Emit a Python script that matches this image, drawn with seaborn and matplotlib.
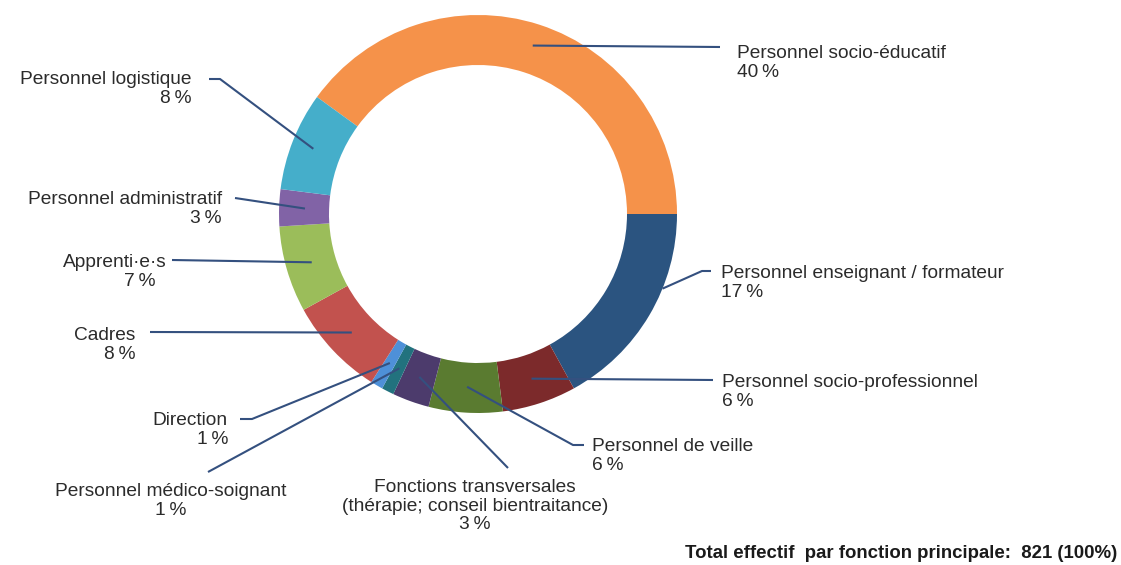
import numpy as np
import matplotlib
matplotlib.use("Agg")
import matplotlib.pyplot as plt
import seaborn as sns

# ---- data ----
categories = [
    "Personnel socio-éducatif",
    "Personnel enseignant / formateur",
    "Personnel socio-professionnel",
    "Personnel de veille",
    "Fonctions transversales\n(thérapie; conseil bientraitance)",
    "Personnel médico-soignant",
    "Direction",
    "Cadres",
    "Apprenti·e·s",
    "Personnel administratif",
    "Personnel logistique",
]
percentages = [40, 17, 6, 6, 3, 1, 1, 8, 7, 3, 8]
total_label = "Total effectif  par fonction principale:  821 (100%)"

colors = ["#F5924A", "#2B5480", "#7C2A2B", "#5A7B30", "#4C3B6C", "#22727E",
          "#4E90D8", "#C2524E", "#9BBD5A", "#8163A6", "#45AECA"]

sns.set_theme(style="white")
plt.rcParams["font.family"] = ["Liberation Sans", "DejaVu Sans"]

W, H = 1121, 565
fig = plt.figure(figsize=(W / 100, H / 100), dpi=100)
ax = fig.add_axes([0, 0, 1, 1])

def Y(p):
    return H - p

cx, cy, R = 478, Y(214), 199
wedges, _ = ax.pie(percentages, colors=colors, startangle=144, counterclock=False,
                   center=(cx, cy), radius=R,
                   wedgeprops=dict(width=50, linewidth=0))
ax.set_xlim(0, W)
ax.set_ylim(0, H)
ax.set_aspect("auto")
ax.axis("off")

# layout: (anchor fraction in wedge, anchor radius factor, leader path points (px),
#          text x, first-line y (px), ha, pct x offset)
layout = [
    (0.5, 0.89, [(720, 47)], 737, 51, "left", 0),
    (0.64, 1.0, [(702, 271), (711, 271)], 721, 271, "left", 0),
    (0.5, 0.87, [(713, 380)], 722, 380, "left", 0),
    (0.5, 0.87, [(573, 445), (584, 445)], 592, 444, "left", 0),
    (0.5, 0.87, [(508, 468)], 475, 485, "center", 0),
    (0.5, 0.87, [(208, 472)], 171, 489, "center", 0),
    (0.5, 0.87, [(252, 419), (240, 419)], 228, 418, "right", 0),
    (0.5, 0.87, [(150, 332)], 135, 333, "right", 0),
    (0.5, 0.87, [(172, 260)], 167, 260, "right", -11),
    (0.5, 0.87, [(235, 198)], 222, 197, "right", 0),
    (0.5, 0.89, [(220, 79), (209, 79)], 192, 77, "right", 0),
]

line_color = "#34507F"
text_color = "#2b2b2b"
step = 18.7
for w, cat, pct, (f, rf, pts, tx, ty, ha, dx) in zip(wedges, categories, percentages, layout):
    ang = np.deg2rad(w.theta1 + f * (w.theta2 - w.theta1))
    ax0 = cx + rf * R * np.cos(ang)
    ay0 = cy + rf * R * np.sin(ang)
    xs = [ax0] + [p[0] for p in pts]
    ys = [ay0] + [Y(p[1]) for p in pts]
    ax.plot(xs, ys, color=line_color, lw=1.5, solid_capstyle="butt", zorder=5)
    lines = cat.split("\n")
    for i, s in enumerate(lines):
        ax.text(tx, Y(ty + i * step + 7), s, ha=ha, va="baseline",
                fontsize=13.8, color=text_color)
    ax.text(tx + dx, Y(ty + len(lines) * step + 7), f"{pct}\u2009%", ha=ha, va="baseline",
            fontsize=13.8, color=text_color)

ax.text(1117, Y(553), total_label, ha="right", va="center", fontsize=13.4,
        fontweight="bold", color="#1a1a1a")

fig.savefig("out.png", dpi=100, facecolor="white")
